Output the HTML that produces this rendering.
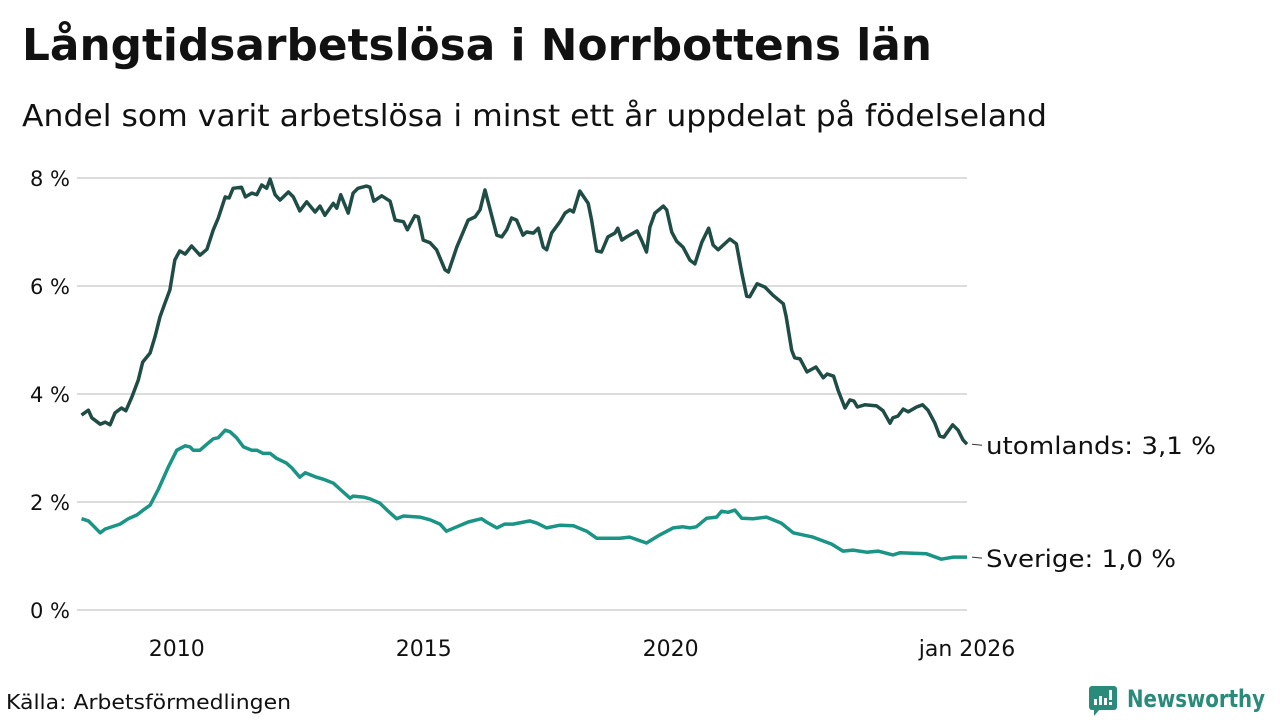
<!DOCTYPE html>
<html><head><meta charset="utf-8"><style>
body{margin:0;width:1280px;height:720px;background:#fff;overflow:hidden;font-family:"DejaVu Sans","Liberation Sans",sans-serif;color:#111}
svg text{font-family:"DejaVu Sans","Liberation Sans",sans-serif}
</style></head><body>
<svg width="1280" height="720" style="position:absolute;left:0;top:0">
<text x="22" y="60" font-size="44" font-weight="bold" fill="#111" textLength="910" lengthAdjust="spacingAndGlyphs">Långtidsarbetslösa i Norrbottens län</text>
<text x="22" y="126" font-size="30" fill="#111" textLength="1025" lengthAdjust="spacingAndGlyphs">Andel som varit arbetslösa i minst ett år uppdelat på födelseland</text>
<g id="grid"></g>
<g id="ylab"></g>
<g id="xlab"></g>
<g id="series"></g>
<text x="6" y="709" font-size="20" fill="#111" textLength="285" lengthAdjust="spacingAndGlyphs">Källa: Arbetsförmedlingen</text>
<g>
<rect x="1089" y="686" width="28" height="24" rx="3" fill="#2a8b7a"/>
<polygon points="1094,709 1100,709 1094,716" fill="#2a8b7a"/>
<rect x="1094" y="699" width="3" height="6" fill="#fff"/><rect x="1099" y="696" width="3" height="9" fill="#fff"/><rect x="1104" y="698" width="3" height="7" fill="#fff"/><rect x="1109" y="690" width="3" height="10" fill="#fff"/><rect x="1109" y="702" width="3" height="3" fill="#fff"/>
<text x="1127" y="707" font-size="24" font-weight="bold" fill="#2a8b7a" textLength="138" lengthAdjust="spacingAndGlyphs">Newsworthy</text>
</g>
</svg>
<script>
const yTicks=[0,2,4,6,8];
const yTickLabels=["0 %","2 %","4 %","6 %","8 %"];
const xTicks=[2010,2015,2020,2026];
const xTickLabels=["2010","2015","2020","jan 2026"];
const utDates=[2008.07,2008.21,2008.28,2008.45,2008.55,2008.65,2008.75,2008.88,2008.97,2009.09,2009.22,2009.31,2009.46,2009.56,2009.66,2009.76,2009.86,2009.96,2010.06,2010.17,2010.30,2010.47,2010.61,2010.74,2010.84,2010.98,2011.06,2011.14,2011.31,2011.39,2011.52,2011.62,2011.72,2011.82,2011.89,2011.99,2012.09,2012.26,2012.36,2012.49,2012.63,2012.80,2012.90,2013.00,2013.17,2013.24,2013.32,2013.47,2013.57,2013.67,2013.84,2013.91,2013.99,2014.15,2014.32,2014.42,2014.59,2014.67,2014.82,2014.89,2014.99,2015.13,2015.26,2015.43,2015.50,2015.67,2015.90,2016.04,2016.14,2016.24,2016.48,2016.58,2016.68,2016.78,2016.88,2017.01,2017.08,2017.22,2017.32,2017.42,2017.49,2017.59,2017.76,2017.86,2017.96,2018.03,2018.16,2018.33,2018.40,2018.50,2018.60,2018.73,2018.87,2018.93,2019.01,2019.11,2019.32,2019.41,2019.51,2019.58,2019.68,2019.85,2019.92,2020.02,2020.12,2020.25,2020.39,2020.49,2020.63,2020.77,2020.86,2020.96,2021.20,2021.33,2021.44,2021.54,2021.60,2021.75,2021.91,2022.07,2022.28,2022.34,2022.45,2022.51,2022.62,2022.76,2022.94,2023.09,2023.17,2023.30,2023.39,2023.53,2023.63,2023.71,2023.78,2023.93,2024.17,2024.30,2024.44,2024.50,2024.60,2024.71,2024.81,2024.98,2025.10,2025.21,2025.35,2025.45,2025.53,2025.71,2025.82,2025.92,2026.0];
const utValues=[3.61,3.70,3.56,3.44,3.48,3.43,3.65,3.74,3.69,3.94,4.26,4.59,4.76,5.06,5.43,5.68,5.93,6.48,6.65,6.59,6.74,6.57,6.68,7.04,7.26,7.65,7.63,7.81,7.83,7.65,7.72,7.69,7.87,7.81,7.98,7.69,7.59,7.74,7.65,7.39,7.56,7.37,7.48,7.31,7.53,7.44,7.69,7.35,7.72,7.81,7.85,7.83,7.57,7.67,7.57,7.22,7.19,7.04,7.30,7.28,6.85,6.80,6.67,6.30,6.26,6.72,7.22,7.28,7.41,7.78,6.94,6.91,7.04,7.26,7.22,6.94,7.0,6.98,7.07,6.72,6.67,6.98,7.19,7.35,7.41,7.37,7.76,7.53,7.22,6.65,6.63,6.91,6.98,7.07,6.85,6.91,7.02,6.85,6.63,7.09,7.35,7.48,7.41,7.0,6.83,6.72,6.48,6.41,6.81,7.07,6.76,6.67,6.87,6.78,6.24,5.81,5.80,6.04,5.98,5.83,5.67,5.43,4.81,4.67,4.65,4.41,4.50,4.30,4.37,4.33,4.07,3.74,3.89,3.87,3.76,3.80,3.78,3.69,3.46,3.56,3.59,3.72,3.67,3.76,3.80,3.70,3.46,3.22,3.20,3.43,3.33,3.15,3.07];
const seDates=[2008.07,2008.21,2008.31,2008.45,2008.55,2008.85,2009.02,2009.19,2009.32,2009.46,2009.63,2009.83,2010.00,2010.17,2010.27,2010.33,2010.47,2010.61,2010.74,2010.84,2010.98,2011.08,2011.21,2011.35,2011.52,2011.62,2011.75,2011.89,2012.02,2012.22,2012.33,2012.49,2012.60,2012.83,2012.97,2013.17,2013.30,2013.51,2013.57,2013.78,2013.91,2014.11,2014.28,2014.45,2014.59,2014.92,2015.13,2015.33,2015.46,2015.67,2015.90,2016.17,2016.27,2016.48,2016.64,2016.81,2017.15,2017.29,2017.49,2017.76,2018.03,2018.30,2018.50,2018.84,2018.97,2019.17,2019.51,2019.78,2020.05,2020.25,2020.39,2020.52,2020.73,2020.93,2021.03,2021.16,2021.30,2021.44,2021.67,2021.94,2022.24,2022.48,2022.68,2022.88,2023.26,2023.49,2023.69,2023.97,2024.20,2024.50,2024.64,2025.18,2025.48,2025.72,2026.0];
const seValues=[1.69,1.65,1.56,1.43,1.50,1.59,1.69,1.76,1.85,1.94,2.24,2.65,2.96,3.04,3.02,2.96,2.96,3.07,3.17,3.19,3.33,3.30,3.19,3.02,2.96,2.96,2.90,2.90,2.81,2.72,2.63,2.46,2.54,2.46,2.42,2.35,2.24,2.07,2.11,2.09,2.06,1.98,1.83,1.69,1.74,1.72,1.67,1.59,1.46,1.54,1.63,1.69,1.63,1.52,1.59,1.59,1.65,1.61,1.52,1.57,1.56,1.46,1.33,1.33,1.33,1.35,1.24,1.39,1.52,1.54,1.52,1.54,1.70,1.72,1.83,1.81,1.85,1.70,1.69,1.72,1.61,1.43,1.39,1.35,1.22,1.09,1.11,1.07,1.09,1.02,1.06,1.04,0.94,0.98,0.98];
const NS='http://www.w3.org/2000/svg';
const X0=78,X1=967,Y0=610,Y1=178;
function xs(t){return X0+(t-2008)/(2026-2008)*(X1-X0);}
function ys(v){return Y0-(v/8)*(Y0-Y1);}
function mk(tag,attrs,parent){const e=document.createElementNS(NS,tag);for(const k in attrs)e.setAttribute(k,attrs[k]);parent.appendChild(e);return e;}
const grid=document.getElementById('grid'),ylab=document.getElementById('ylab'),xlab=document.getElementById('xlab'),ser=document.getElementById('series');
yTicks.forEach((v,i)=>{
 const l=mk('line',{x1:77,x2:967,y1:ys(v),y2:ys(v),stroke:'#dcdcdc','stroke-width':2},grid);
 
 
 const t=mk('text',{x:70,y:ys(v)+8,'text-anchor':'end','font-size':21,fill:'#111'},ylab);
 t.textContent=yTickLabels[i];
 
 
});
xTicks.forEach((v,i)=>{
 const t=mk('text',{x:xs(v),y:656,'text-anchor':'middle','font-size':22,fill:'#111'},xlab);
 t.textContent=xTickLabels[i];
 
 
});
function line(d,v,col,name,label,len){
 const p=mk('polyline',{points:d.map((t,i)=>xs(t).toFixed(1)+','+ys(v[i]).toFixed(1)).join(' '),fill:'none',stroke:col,'stroke-width':3.5,'stroke-linejoin':'round'},ser);
 
 
 const last=v[v.length-1],yy=ys(last);
 const c=mk('line',{x1:972,x2:982,y1:yy,y2:yy+1,stroke:'#333','stroke-width':1},ser);
 
 
 const t=mk('text',{x:986,y:yy+10,'font-size':24,fill:'#111',textLength:len,lengthAdjust:'spacingAndGlyphs'},ser);
 t.textContent=label;
 
 
}
line(utDates,utValues,'#1f4d45','line-utomlands','utomlands: 3,1 %',230);
line(seDates,seValues,'#1a9484','line-sverige','Sverige: 1,0 %',190);
</script>
</body></html>
